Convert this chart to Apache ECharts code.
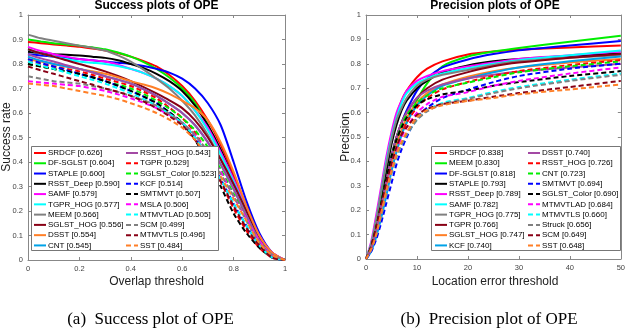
<!DOCTYPE html>
<html>
<head>
<meta charset="utf-8">
<script src="https://cdn.jsdelivr.net/npm/echarts@6/dist/echarts.min.js"></script>
<style>
  html, body { margin: 0; padding: 0; background: #fff; }
  #chart { width: 628px; height: 332px; }
</style>
</head>
<body>
<div id="chart"></div>
<script>
// thresholds
const sucX = [0, 0.05, 0.1, 0.15, 0.2, 0.25, 0.3, 0.35, 0.4, 0.45, 0.5, 0.55, 0.6, 0.65, 0.7, 0.75, 0.8, 0.85, 0.9, 0.95, 1];
const preX = [0, 1, 2, 3, 4, 5, 6, 7, 8, 10, 12, 15, 20, 25, 30, 40, 50];

// success plot (overlap threshold)
const sucNames = [
  'SRDCF [0.626]', 'DF-SGLST [0.604]', 'STAPLE [0.600]', 'RSST_Deep [0.590]', 'SAMF [0.579]',
  'TGPR_HOG [0.577]', 'MEEM [0.566]', 'SGLST_HOG [0.556]', 'DSST [0.554]', 'CNT [0.545]',
  'RSST_HOG [0.543]', 'TGPR [0.529]', 'SGLST_Color [0.523]', 'KCF [0.514]', 'SMTMVT [0.507]',
  'MSLA [0.506]', 'MTMVTLAD [0.505]', 'SCM [0.499]', 'MTMVTLS [0.496]', 'SST [0.484]'
];
const sucCurves = [
  [0.89, 0.885, 0.88, 0.875, 0.87, 0.863, 0.855, 0.845, 0.83, 0.812, 0.79, 0.755, 0.71, 0.65, 0.57, 0.47, 0.35, 0.22, 0.10, 0.03, 0],
  [0.90, 0.892, 0.885, 0.88, 0.875, 0.868, 0.86, 0.847, 0.83, 0.808, 0.78, 0.745, 0.70, 0.64, 0.55, 0.44, 0.31, 0.19, 0.08, 0.02, 0],
  [0.84, 0.835, 0.83, 0.825, 0.82, 0.815, 0.81, 0.805, 0.80, 0.792, 0.78, 0.765, 0.74, 0.70, 0.64, 0.55, 0.40, 0.24, 0.11, 0.03, 0],
  [0.85, 0.845, 0.84, 0.838, 0.835, 0.83, 0.825, 0.815, 0.80, 0.783, 0.76, 0.73, 0.69, 0.63, 0.55, 0.45, 0.33, 0.20, 0.09, 0.02, 0],
  [0.87, 0.853, 0.84, 0.83, 0.82, 0.815, 0.81, 0.797, 0.78, 0.763, 0.74, 0.71, 0.67, 0.61, 0.54, 0.44, 0.33, 0.21, 0.10, 0.03, 0],
  [0.86, 0.843, 0.83, 0.82, 0.81, 0.805, 0.80, 0.792, 0.78, 0.763, 0.74, 0.71, 0.67, 0.61, 0.53, 0.43, 0.32, 0.20, 0.09, 0.02, 0],
  [0.92, 0.905, 0.895, 0.885, 0.875, 0.866, 0.855, 0.835, 0.81, 0.777, 0.74, 0.70, 0.65, 0.59, 0.51, 0.41, 0.30, 0.18, 0.08, 0.02, 0],
  [0.86, 0.843, 0.83, 0.815, 0.80, 0.786, 0.77, 0.751, 0.73, 0.706, 0.68, 0.652, 0.62, 0.57, 0.50, 0.41, 0.31, 0.20, 0.09, 0.02, 0],
  [0.82, 0.81, 0.80, 0.79, 0.78, 0.77, 0.76, 0.746, 0.73, 0.716, 0.70, 0.678, 0.65, 0.62, 0.57, 0.48, 0.36, 0.22, 0.10, 0.03, 0],
  [0.83, 0.813, 0.80, 0.79, 0.78, 0.766, 0.75, 0.736, 0.72, 0.697, 0.67, 0.637, 0.60, 0.55, 0.48, 0.39, 0.29, 0.18, 0.08, 0.02, 0],
  [0.84, 0.823, 0.81, 0.795, 0.78, 0.766, 0.75, 0.736, 0.72, 0.697, 0.67, 0.637, 0.60, 0.55, 0.48, 0.39, 0.29, 0.18, 0.08, 0.02, 0],
  [0.81, 0.80, 0.79, 0.78, 0.77, 0.756, 0.74, 0.726, 0.71, 0.687, 0.66, 0.622, 0.58, 0.52, 0.43, 0.32, 0.21, 0.12, 0.05, 0.01, 0],
  [0.80, 0.79, 0.78, 0.77, 0.76, 0.746, 0.73, 0.716, 0.70, 0.677, 0.65, 0.618, 0.58, 0.53, 0.46, 0.37, 0.27, 0.17, 0.08, 0.02, 0],
  [0.82, 0.804, 0.79, 0.775, 0.76, 0.746, 0.73, 0.711, 0.69, 0.667, 0.64, 0.603, 0.56, 0.50, 0.42, 0.33, 0.23, 0.14, 0.06, 0.01, 0],
  [0.80, 0.79, 0.78, 0.77, 0.76, 0.746, 0.73, 0.711, 0.69, 0.667, 0.64, 0.603, 0.56, 0.49, 0.40, 0.30, 0.19, 0.11, 0.05, 0.01, 0],
  [0.73, 0.725, 0.72, 0.715, 0.71, 0.70, 0.69, 0.676, 0.66, 0.642, 0.62, 0.592, 0.56, 0.51, 0.44, 0.36, 0.26, 0.17, 0.08, 0.02, 0],
  [0.81, 0.794, 0.78, 0.765, 0.75, 0.736, 0.72, 0.701, 0.68, 0.657, 0.63, 0.597, 0.56, 0.50, 0.42, 0.33, 0.23, 0.14, 0.06, 0.01, 0],
  [0.75, 0.74, 0.73, 0.725, 0.72, 0.71, 0.70, 0.686, 0.67, 0.652, 0.63, 0.597, 0.56, 0.51, 0.44, 0.35, 0.26, 0.16, 0.07, 0.02, 0],
  [0.79, 0.774, 0.76, 0.745, 0.73, 0.716, 0.70, 0.686, 0.67, 0.647, 0.62, 0.587, 0.55, 0.49, 0.41, 0.32, 0.22, 0.13, 0.06, 0.01, 0],
  [0.72, 0.715, 0.71, 0.70, 0.69, 0.68, 0.67, 0.657, 0.64, 0.622, 0.60, 0.573, 0.54, 0.49, 0.42, 0.34, 0.25, 0.16, 0.07, 0.02, 0]
];

// precision plot (location error threshold)
const preNames = [
  'SRDCF [0.838]', 'MEEM [0.830]', 'DF-SGLST [0.818]', 'STAPLE [0.793]', 'RSST_Deep [0.789]',
  'SAMF [0.782]', 'TGPR_HOG [0.775]', 'TGPR [0.766]', 'SGLST_HOG [0.747]', 'KCF [0.740]',
  'DSST [0.740]', 'RSST_HOG [0.726]', 'CNT [0.723]', 'SMTMVT [0.694]', 'SGLST_Color [0.690]',
  'MTMVTLAD [0.684]', 'MTMVTLS [0.660]', 'Struck [0.656]', 'SCM [0.649]', 'SST [0.648]'
];
const preCurves = [
  [0, 0.05, 0.15, 0.27, 0.39, 0.50, 0.59, 0.65, 0.69, 0.745, 0.78, 0.81, 0.838, 0.85, 0.858, 0.867, 0.875],
  [0, 0.04, 0.12, 0.21, 0.31, 0.40, 0.47, 0.52, 0.56, 0.65, 0.72, 0.79, 0.830, 0.85, 0.865, 0.89, 0.915],
  [0, 0.04, 0.12, 0.22, 0.32, 0.42, 0.50, 0.56, 0.61, 0.69, 0.74, 0.785, 0.818, 0.84, 0.855, 0.875, 0.893],
  [0, 0.05, 0.14, 0.25, 0.36, 0.47, 0.55, 0.61, 0.65, 0.70, 0.73, 0.765, 0.793, 0.81, 0.82, 0.832, 0.842],
  [0, 0.07, 0.18, 0.30, 0.42, 0.52, 0.60, 0.65, 0.69, 0.73, 0.75, 0.77, 0.789, 0.805, 0.82, 0.835, 0.85],
  [0, 0.06, 0.16, 0.28, 0.40, 0.50, 0.58, 0.64, 0.68, 0.72, 0.74, 0.76, 0.782, 0.80, 0.815, 0.835, 0.855],
  [0, 0.06, 0.16, 0.28, 0.39, 0.49, 0.57, 0.62, 0.66, 0.71, 0.735, 0.755, 0.775, 0.795, 0.81, 0.825, 0.835],
  [0, 0.04, 0.12, 0.22, 0.32, 0.42, 0.50, 0.56, 0.60, 0.66, 0.70, 0.735, 0.766, 0.79, 0.805, 0.825, 0.84],
  [0, 0.04, 0.11, 0.20, 0.30, 0.39, 0.47, 0.53, 0.58, 0.64, 0.68, 0.715, 0.747, 0.77, 0.785, 0.805, 0.82],
  [0, 0.03, 0.09, 0.17, 0.26, 0.36, 0.44, 0.51, 0.56, 0.63, 0.67, 0.71, 0.740, 0.765, 0.785, 0.81, 0.83],
  [0, 0.04, 0.12, 0.22, 0.32, 0.42, 0.50, 0.56, 0.60, 0.66, 0.69, 0.715, 0.740, 0.755, 0.768, 0.785, 0.80],
  [0, 0.04, 0.11, 0.20, 0.29, 0.38, 0.45, 0.51, 0.56, 0.62, 0.66, 0.695, 0.726, 0.75, 0.77, 0.795, 0.815],
  [0, 0.05, 0.13, 0.23, 0.33, 0.42, 0.49, 0.55, 0.59, 0.64, 0.67, 0.70, 0.723, 0.745, 0.765, 0.79, 0.81],
  [0, 0.03, 0.08, 0.15, 0.23, 0.31, 0.39, 0.45, 0.50, 0.58, 0.62, 0.66, 0.694, 0.725, 0.75, 0.78, 0.80],
  [0, 0.05, 0.13, 0.23, 0.33, 0.42, 0.49, 0.54, 0.58, 0.63, 0.655, 0.675, 0.690, 0.71, 0.725, 0.75, 0.77],
  [0, 0.04, 0.11, 0.20, 0.29, 0.38, 0.45, 0.50, 0.54, 0.60, 0.635, 0.665, 0.684, 0.71, 0.73, 0.76, 0.785],
  [0, 0.04, 0.10, 0.18, 0.27, 0.35, 0.42, 0.47, 0.51, 0.57, 0.61, 0.64, 0.660, 0.685, 0.705, 0.735, 0.76],
  [0, 0.04, 0.10, 0.18, 0.27, 0.35, 0.42, 0.47, 0.51, 0.57, 0.605, 0.635, 0.656, 0.68, 0.70, 0.73, 0.755],
  [0, 0.05, 0.13, 0.22, 0.31, 0.39, 0.46, 0.51, 0.54, 0.59, 0.615, 0.635, 0.649, 0.665, 0.68, 0.705, 0.73],
  [0, 0.04, 0.10, 0.19, 0.28, 0.36, 0.43, 0.48, 0.52, 0.58, 0.61, 0.63, 0.648, 0.66, 0.675, 0.695, 0.715]
];

// OTB style colours: 10 solid, purple solid, then the first 9 dashed
const palette = ['#ff0000', '#00ee00', '#0000ff', '#000000', '#ff00ff', '#00ffff',
  '#808080', '#880015', '#ff7f27', '#00a2e8', '#a349a4'];

function styleOf(i) {
  if (i <= 10) return { color: palette[i], type: 'solid' };
  return { color: palette[i - 11], type: [5, 3] };
}

function makeSeries(names, curves, xs, axis) {
  return names.map((name, i) => {
    const st = styleOf(i);
    return {
      name: name,
      type: 'line',
      xAxisIndex: axis,
      yAxisIndex: axis,
      data: xs.map((x, k) => [x, curves[i][k]]),
      symbol: 'circle',
      showSymbol: false,
      smooth: 0.25,
      silent: true,
      z: 2,
      lineStyle: { color: st.color, width: 2, type: st.type },
      itemStyle: { color: st.color }
    };
  });
}

const FONT = 'Liberation Sans, Arial, sans-serif';
const boxColor = '#888';

function bottomX(grid, max, interval) {
  return {
    type: 'value', gridIndex: grid, position: 'bottom', min: 0, max: max, interval: interval,
    axisLine: { show: true, onZero: false, lineStyle: { color: boxColor, width: 1 } },
    axisTick: { show: true, inside: true, length: 3, lineStyle: { color: boxColor } },
    axisLabel: { color: '#444', fontSize: 7.5, fontFamily: FONT, margin: 5 },
    splitLine: { show: false }
  };
}
function topX(grid, max, interval) {
  return {
    type: 'value', gridIndex: grid, position: 'top', min: 0, max: max, interval: interval,
    axisLine: { show: true, onZero: false, lineStyle: { color: boxColor, width: 1 } },
    axisTick: { show: true, inside: true, length: 3, lineStyle: { color: boxColor } },
    axisLabel: { show: false }, splitLine: { show: false }
  };
}
function leftY(grid) {
  return {
    type: 'value', gridIndex: grid, position: 'left', min: 0, max: 1, interval: 0.1,
    axisLine: { show: true, onZero: false, lineStyle: { color: boxColor, width: 1 } },
    axisTick: { show: true, inside: true, length: 3, lineStyle: { color: boxColor } },
    axisLabel: { color: '#444', fontSize: 7.5, fontFamily: FONT, margin: 5 },
    splitLine: { show: false }
  };
}
function rightY(grid) {
  return {
    type: 'value', gridIndex: grid, position: 'right', min: 0, max: 1, interval: 0.1,
    axisLine: { show: true, onZero: false, lineStyle: { color: boxColor, width: 1 } },
    axisTick: { show: true, inside: true, length: 3, lineStyle: { color: boxColor } },
    axisLabel: { show: false }, splitLine: { show: false }
  };
}

function legendCol(data, left) {
  return {
    data: data, left: left, top: 148, orient: 'vertical', padding: 0,
    itemWidth: 12, itemHeight: 6, itemGap: 0.27, z: 6,
    selectedMode: false,
    itemStyle: { opacity: 0 },
    textStyle: { fontSize: 8, lineHeight: 10, color: '#000', fontFamily: FONT, padding: [0, 0, 0, -3] }
  };
}

function text(x, y, str, size, extra) {
  return {
    type: 'text', x: x, y: y, silent: true,
    style: Object.assign({ text: str, fontSize: size, fontFamily: FONT, fill: '#222',
      textAlign: 'center', textVerticalAlign: 'middle' }, extra || {})
  };
}

const option = {
  animation: false,
  backgroundColor: '#fff',
  grid: [
    { left: 28, top: 15, width: 257, height: 245, show: false },
    { left: 366, top: 15, width: 258, height: 244, show: false }
  ],
  xAxis: [bottomX(0, 1, 0.2), topX(0, 1, 0.2), bottomX(1, 50, 10), topX(1, 50, 10)],
  yAxis: [leftY(0), rightY(0), leftY(1), rightY(1)],
  legend: [
    legendCol(sucNames.slice(0, 10), 33),
    legendCol(sucNames.slice(10), 125),
    legendCol(preNames.slice(0, 10), 434),
    legendCol(preNames.slice(10), 527)
  ],
  graphic: [
    { type: 'rect', z: 5, silent: true, shape: { x: 31.5, y: 146.5, width: 187, height: 104 },
      style: { fill: '#fff', stroke: '#777', lineWidth: 1 } },
    { type: 'rect', z: 5, silent: true, shape: { x: 431.5, y: 146.5, width: 189, height: 104 },
      style: { fill: '#fff', stroke: '#777', lineWidth: 1 } },
    text(156.5, 6, 'Success plots of OPE', 12, { fontWeight: 'bold', fill: '#000' }),
    text(495, 6, 'Precision plots of OPE', 12, { fontWeight: 'bold', fill: '#000' }),
    Object.assign(text(0, 0, 'Success rate', 12), { x: 7, y: 137, rotation: Math.PI / 2 }),
    Object.assign(text(0, 0, 'Precision', 12), { x: 346, y: 137, rotation: Math.PI / 2 }),
    text(156.5, 282, 'Overlap threshold', 12),
    text(495, 282, 'Location error threshold', 12),
    text(150.5, 320, '(a)  Success plot of OPE', 17, { fontFamily: 'Liberation Serif, Times New Roman, serif', fill: '#000' }),
    text(489, 320, '(b)  Precision plot of OPE', 17, { fontFamily: 'Liberation Serif, Times New Roman, serif', fill: '#000' })
  ],
  series: makeSeries(sucNames, sucCurves, sucX, 0).concat(makeSeries(preNames, preCurves, preX, 2))
};

const chart = echarts.init(document.getElementById('chart'), null, { renderer: 'canvas' });
chart.setOption(option);
</script>
</body>
</html>
